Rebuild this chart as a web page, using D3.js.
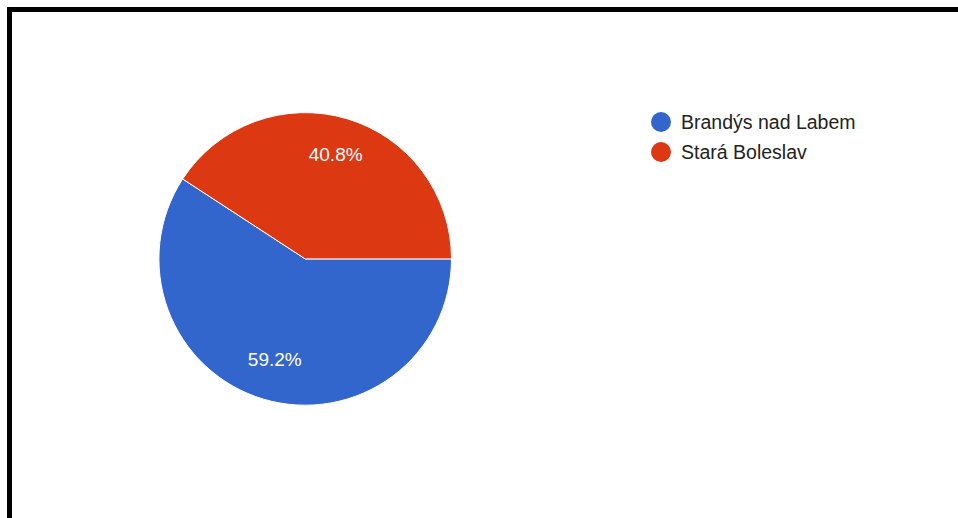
<!DOCTYPE html>
<html>
<head>
<meta charset="utf-8">
<script src="https://cdn.jsdelivr.net/npm/d3@7"></script>
<style>
  html, body { margin: 0; padding: 0; background: #fff; }
  svg { display: block; }
  text { font-family: Arial, "Liberation Sans", sans-serif; }
</style>
</head>
<body>
<svg id="chart" width="958" height="518"></svg>
<script>
const categories = ["Brandýs nad Labem", "Stará Boleslav"];
const values = [59.2, 40.8];
const colors = ["#3366cc", "#dc3912"];
const labels = ["59.2%", "40.8%"];

const svg = d3.select("#chart");

// frame (top and left black border)
svg.append("rect").attr("x", 7).attr("y", 7).attr("width", 951).attr("height", 5).attr("fill", "#000");
svg.append("rect").attr("x", 7).attr("y", 7).attr("width", 5).attr("height", 511).attr("fill", "#000");

const cx = 305.2, cy = 258.9, r = 146.3;
const g = svg.append("g").attr("transform", `translate(${cx},${cy})`);

const pie = d3.pie().sort(null).value(d => d)
  .startAngle(Math.PI / 2).endAngle(Math.PI / 2 + 2 * Math.PI);
const arcs = pie(values);
const arc = d3.arc().innerRadius(0).outerRadius(r);
const labelArc = d3.arc().innerRadius(106.9).outerRadius(106.9);

g.selectAll("path.slice").data(arcs).enter().append("path")
  .attr("class", "slice")
  .attr("d", arc)
  .attr("fill", (d, i) => colors[i])
  .attr("stroke", "#fff")
  .attr("stroke-width", 1);

g.selectAll("text.lbl").data(arcs).enter().append("text")
  .attr("class", "lbl")
  .attr("x", d => labelArc.centroid(d)[0])
  .attr("y", d => labelArc.centroid(d)[1] + 4.5)
  .attr("text-anchor", "middle")
  .attr("fill", "#fff")
  .attr("font-size", 19)
  .text((d, i) => labels[i]);

// legend
const legend = svg.append("g");
const items = legend.selectAll("g").data(categories).enter().append("g")
  .attr("transform", (d, i) => `translate(661,${122 + i * 30})`);
items.append("circle").attr("r", 10).attr("fill", (d, i) => colors[i]);
items.append("text")
  .attr("x", 20).attr("y", 7)
  .attr("font-size", 19.5)
  .attr("fill", "#222")
  .text(d => d);
</script>
</body>
</html>
